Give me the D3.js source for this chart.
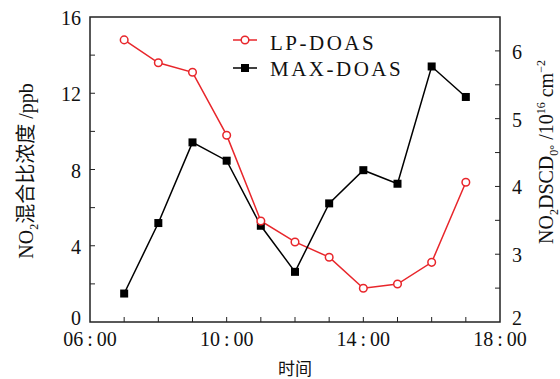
<!DOCTYPE html>
<html lang="zh">
<head>
<meta charset="UTF-8">
<title>NO2 LP-DOAS vs MAX-DOAS</title>
<script src="https://cdn.jsdelivr.net/npm/d3@7/dist/d3.min.js"></script>
<style>
  body { margin: 0; background: #fff; }
  text { font-family: "Liberation Serif", "DejaVu Serif", serif; fill: #111; }
  .cjk { font-family: "Noto Sans CJK SC", sans-serif; }
</style>
</head>
<body>
<script>
    // 小时
    const hours = [7, 8, 9, 10, 11, 12, 13, 14, 15, 16, 17];
    // LP-DOAS 混合比 (ppb) — 左轴
    const lpDoas = [14.8, 13.6, 13.1, 9.8, 5.3, 4.2, 3.4, 1.77, 1.99, 3.13, 7.33];
    // MAX-DOAS DSCD (10^16 cm^-2) — 右轴
    const maxDoas = [2.42, 3.46, 4.65, 4.38, 3.42, 2.74, 3.75, 4.24, 4.04, 5.77, 5.32];
    const xTickLabels = ['06:00', '10:00', '14:00', '18:00'];
    const leftTicks = [0, 4, 8, 12, 16];
    const rightTicks = [2, 3, 4, 5, 6];

    const w = 560, h = 379;
    const m = {left: 90, right: 60, top: 17, bottom: 57};
    const red = '#e8262b';

    let svg = d3.select('body').append('svg')
        .attr('width', w).attr('height', h);

    let xScale = d3.scaleLinear().domain([6, 18]).range([m.left, w - m.right]);
    let yLeft = d3.scaleLinear().domain([0, 16]).range([h - m.bottom, m.top]);
    let yRight = d3.scaleLinear().domain([2, 6.5]).range([h - m.bottom, m.top]);

    const x0 = m.left, x1 = w - m.right, y0 = h - m.bottom, y1 = m.top;

    // 刻度线 (向内)
    let ticks = svg.append('g').attr('stroke', '#222').attr('stroke-width', 1);
    d3.range(7, 18).forEach(t => {
        ticks.append('line').attr('x1', xScale(t)).attr('x2', xScale(t))
            .attr('y1', y0).attr('y2', y0 - 5);
    });
    d3.range(2, 16, 2).forEach(t => {
        ticks.append('line').attr('x1', x0).attr('x2', x0 + 5)
            .attr('y1', yLeft(t)).attr('y2', yLeft(t));
    });
    d3.range(2.5, 6.5, 0.5).forEach(t => {
        ticks.append('line').attr('x1', x1).attr('x2', x1 - 5)
            .attr('y1', yRight(t)).attr('y2', yRight(t));
    });

    // 边框
    svg.append('rect')
        .attr('x', x0).attr('y', y1)
        .attr('width', x1 - x0).attr('height', y0 - y1)
        .attr('fill', 'none').attr('stroke', '#222').attr('stroke-width', 1.5);

    // 刻度标签
    svg.selectAll('.xl').data(xTickLabels).enter().append('text')
        .attr('x', (d, i) => xScale(6 + i * 4))
        .attr('y', y0 + 24)
        .attr('text-anchor', 'middle')
        .attr('font-size', 20)
        .text(d => d.replace(':', '\u2009:\u2009'));
    svg.selectAll('.yl').data(leftTicks).enter().append('text')
        .attr('x', x0 - 9)
        .attr('y', d => yLeft(d) + (d === 0 ? 3 : 8))
        .attr('text-anchor', 'end')
        .attr('font-size', 20)
        .text(d => d);
    svg.selectAll('.yr').data(rightTicks).enter().append('text')
        .attr('x', x1 + 12)
        .attr('y', d => yRight(d) + (d === 2 ? 3 : 8))
        .attr('text-anchor', 'start')
        .attr('font-size', 20)
        .text(d => d);

    // 轴标题
    svg.append('text').attr('class', 'cjk')
        .attr('x', (x0 + x1) / 2).attr('y', 375)
        .attr('text-anchor', 'middle').attr('font-size', 17)
        .text('时间');

    let lt = svg.append('text')
        .attr('transform', 'translate(33,' + 171 + ') rotate(-90)')
        .attr('text-anchor', 'middle').attr('font-size', 20);
    lt.append('tspan').text('NO');
    lt.append('tspan').attr('font-size', 12).attr('dy', 5).text('2');
    lt.append('tspan').attr('class', 'cjk').attr('dy', -5).text('混合比浓度');
    lt.append('tspan').text(' /ppb');

    let rt = svg.append('text')
        .attr('transform', 'translate(553,' + 152 + ') rotate(-90)')
        .attr('text-anchor', 'middle').attr('font-size', 20);
    rt.append('tspan').text('NO');
    rt.append('tspan').attr('font-size', 12).attr('dy', 5).text('2');
    rt.append('tspan').attr('dy', -5).text('DSCD');
    rt.append('tspan').attr('font-size', 12).attr('dy', 5).text('0°');
    rt.append('tspan').attr('dy', -5).text(' /10');
    rt.append('tspan').attr('font-size', 12).attr('dy', -8).text('16');
    rt.append('tspan').attr('dy', 8).text(' cm');
    rt.append('tspan').attr('font-size', 12).attr('dy', -8).text('−2');

    // 折线
    let lineL = d3.line().x((d, i) => xScale(hours[i])).y(d => yLeft(d));
    let lineR = d3.line().x((d, i) => xScale(hours[i])).y(d => yRight(d));

    svg.append('path').datum(lpDoas).attr('d', lineL)
        .attr('fill', 'none').attr('stroke', red).attr('stroke-width', 1.5);
    svg.append('path').datum(maxDoas).attr('d', lineR)
        .attr('fill', 'none').attr('stroke', '#000').attr('stroke-width', 1.5);

    svg.selectAll('.sq').data(maxDoas).enter().append('rect')
        .attr('x', (d, i) => xScale(hours[i]) - 4)
        .attr('y', d => yRight(d) - 4)
        .attr('width', 8).attr('height', 8)
        .attr('fill', '#000');
    svg.selectAll('.ci').data(lpDoas).enter().append('circle')
        .attr('cx', (d, i) => xScale(hours[i]))
        .attr('cy', d => yLeft(d))
        .attr('r', 3.8)
        .attr('fill', '#fff').attr('stroke', red).attr('stroke-width', 1.5);

    // 图例
    let lg = svg.append('g');
    lg.append('line').attr('x1', 233).attr('x2', 257).attr('y1', 40).attr('y2', 40)
        .attr('stroke', red).attr('stroke-width', 1.5);
    lg.append('circle').attr('cx', 245).attr('cy', 40).attr('r', 3.8)
        .attr('fill', '#fff').attr('stroke', red).attr('stroke-width', 1.5);
    lg.append('text').attr('x', 270).attr('y', 50).attr('font-size', 21)
        .attr('letter-spacing', 2.5).text('LP-DOAS');
    lg.append('line').attr('x1', 233).attr('x2', 257).attr('y1', 68).attr('y2', 68)
        .attr('stroke', '#000').attr('stroke-width', 1.5);
    lg.append('rect').attr('x', 241).attr('y', 64).attr('width', 8).attr('height', 8)
        .attr('fill', '#000');
    lg.append('text').attr('x', 270).attr('y', 76).attr('font-size', 21)
        .attr('letter-spacing', 2.5).text('MAX-DOAS');
</script>
</body>
</html>
